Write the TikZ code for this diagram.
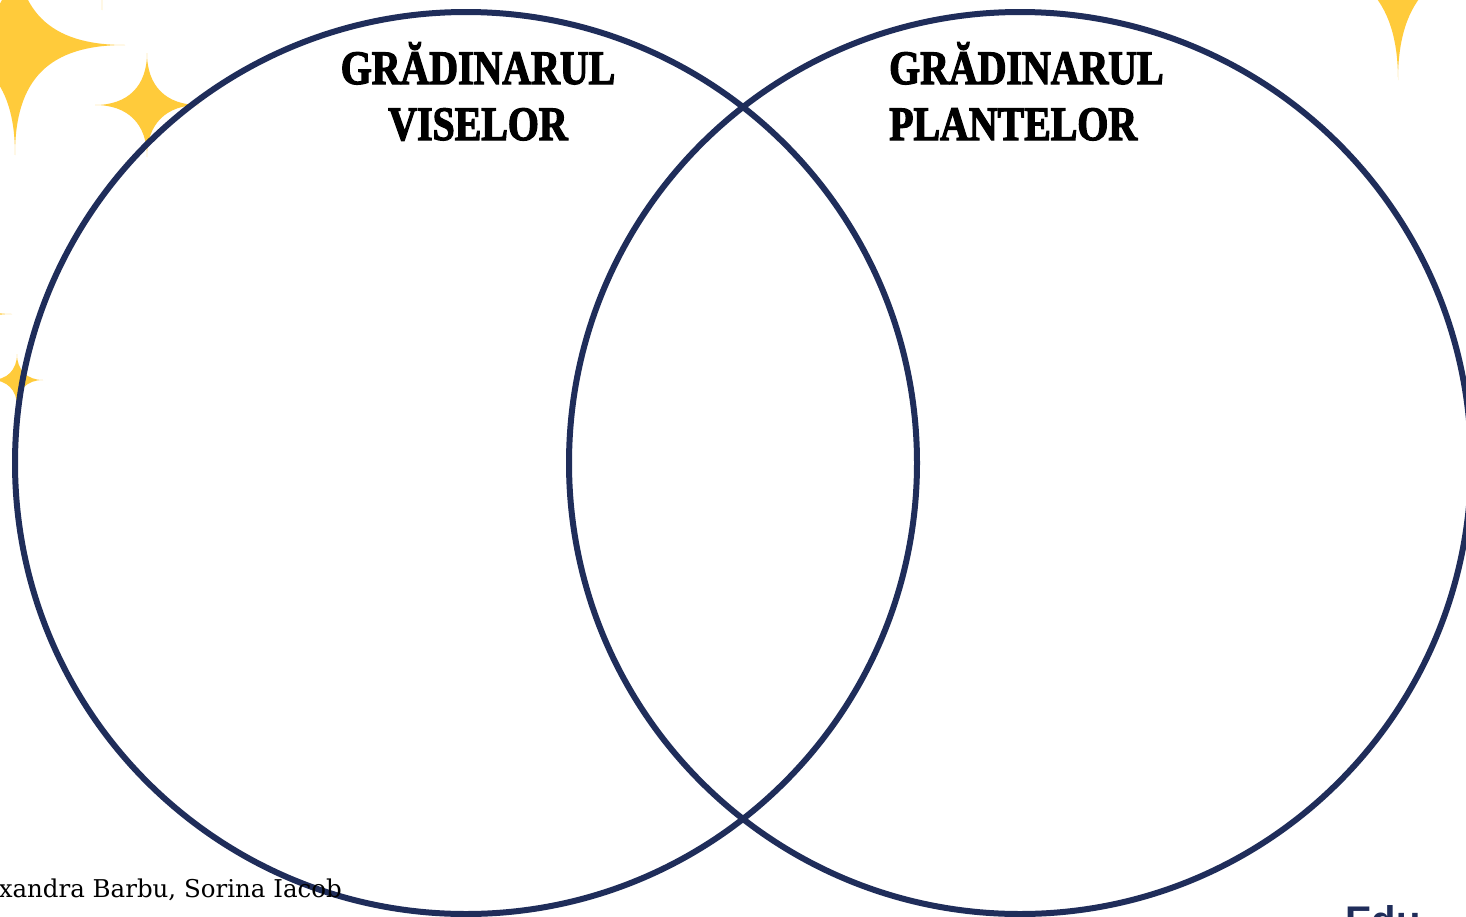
\documentclass[tikz,border=0pt]{standalone}
\usepackage{fontspec}
\usetikzlibrary{calc}
\newfontfamily\titlefont{Liberation Serif}[FakeStretch=0.83,FakeBold=2.5]
\newfontfamily\notefont{DejaVu Serif}
\newfontfamily\logofont{Liberation Sans}
\definecolor{navy}{HTML}{1F2D5A}
\definecolor{sun}{HTML}{FFCB3B}
\tikzset{
  ring/.style={draw=navy, line width=6pt},
  ttl/.style={inner sep=0pt, font=\titlefont\bfseries\fontsize{48}{48}\selectfont},
  note/.style={inner sep=0pt, font=\notefont\fontsize{24.5}{24.5}\selectfont},
}
% sparkle: #1 centre, #2 arm length, #3 body control
\newcommand{\sparkle}[3]{%
  \fill[sun] ($#1+(0,-#2)$) .. controls ($#1+(0,-#3)$) and ($#1+(#3,0)$) .. ($#1+(#2,0)$)
    .. controls ($#1+(#3,0)$) and ($#1+(0,#3)$) .. ($#1+(0,#2)$)
    .. controls ($#1+(0,#3)$) and ($#1+(-#3,0)$) .. ($#1+(-#2,0)$)
    .. controls ($#1+(-#3,0)$) and ($#1+(0,-#3)$) .. ($#1+(0,-#2)$) -- cycle;}
\begin{document}
\begin{tikzpicture}[x=1pt,y=-1pt]
\useasboundingbox (0,0) rectangle (1466,916);
\fill[white] (0,0) rectangle (1466,916);
% sparkles
\sparkle{(15,45)}{110}{34}
\sparkle{(147,105)}{52}{19}
\sparkle{(17,380)}{26}{10}
\sparkle{(-36,314)}{48}{14}
\sparkle{(1398,-40)}{120}{38}
\sparkle{(102,-70)}{80}{22}
% circles
\node[ring, circle, minimum size=902pt, inner sep=0pt] (left) at (466,463) {};
\node[ring, circle, minimum size=902pt, inner sep=0pt] (right) at (1020,463) {};
% titles
\node[ttl, anchor=base] (l1) at (478,84) {GRĂDINARUL};
\node[ttl, anchor=base] (l2) at (478,140) {VISELOR};
\node[ttl, anchor=base west] (r1) at (889,84) {GRĂDINARUL};
\node[ttl, anchor=base west] (r2) at (889,140) {PLANTELOR};
% footer
\node[note, anchor=base east] (auth) at (342,897) {Alexandra Barbu, Sorina Iacob};
\node[inner sep=0pt, anchor=base west, text=navy, font=\logofont\bfseries\fontsize{40}{40}\selectfont] (logo) at (1345,934) {Edu};
\end{tikzpicture}
\end{document}
